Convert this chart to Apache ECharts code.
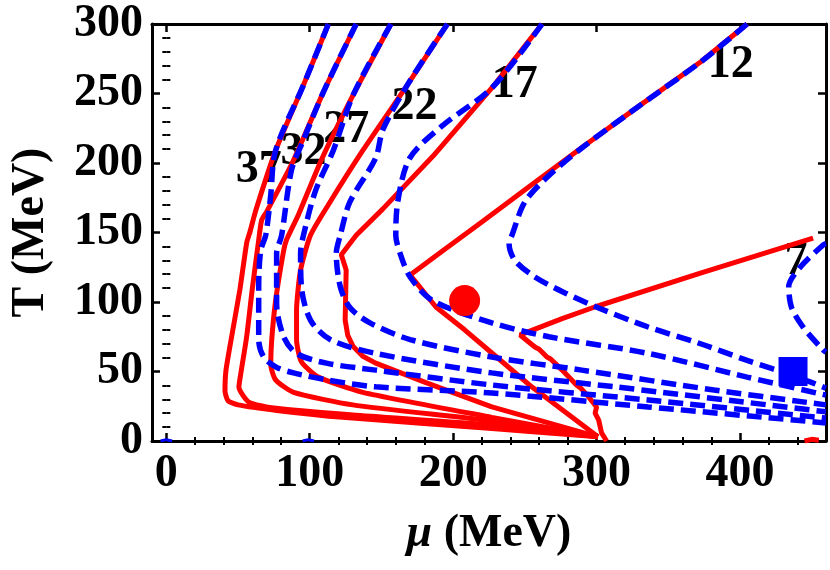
<!DOCTYPE html>
<html>
<head>
<meta charset="utf-8">
<title>T - mu contours</title>
<script src="https://cdn.jsdelivr.net/npm/echarts@6/dist/echarts.min.js"></script>
<style>
  html, body { margin: 0; padding: 0; background: #fff; }
  #chart { width: 830px; height: 570px; }
</style>
</head>
<body>
<div id="chart"></div>
<script>
// ticks
const xMajor = [0, 100, 200, 300, 400]
const xMinor = [20, 40, 60, 80, 120, 140, 160, 180, 220, 240, 260, 280, 320, 340, 360, 380, 420, 440]
const yMajor = [0, 50, 100, 150, 200, 250, 300]
const yMinor = [10, 20, 30, 40, 60, 70, 80, 90, 110, 120, 130, 140, 160, 170, 180, 190, 210, 220, 230, 240, 260, 270, 280, 290]

// red solid contours  [mu, T]
const red37 = [[113, 300], [95.6, 256], [76.2, 209], [62.4, 166], [58.2, 150], [56.1, 143], [51.3, 109], [45.7, 76], [41.6, 51], [40.9, 36], [43, 29], [50, 26], [77, 22], [123, 17], [227, 9], [301, 3]]
const red32 = [[132.4, 300], [109.5, 251], [88.7, 202], [70, 165], [66.5, 159], [64.4, 144.6], [60, 110], [56, 75], [52, 49], [50.6, 38.8], [57.5, 28], [74.8, 23.7], [130, 18.7], [227, 11.5], [301, 3]]
const red27 = [[156.6, 300], [130.3, 249], [108, 202], [92.2, 163], [83.9, 145], [81.8, 137], [76.2, 101], [73.5, 73], [72.8, 55], [76.2, 44], [88.7, 35], [130, 26], [227, 14.4], [301, 3]]
const red22 = [[196, 300], [168, 256], [137, 209], [113, 170], [100.5, 148], [93.6, 123], [90.8, 94], [90.8, 73], [94.2, 57], [106, 46], [137, 35], [227, 17], [301, 3]]
const red17 = [[262, 300], [227, 254], [186, 205], [151, 167], [132.4, 148], [122, 134], [125.4, 123], [124.7, 87], [126.5, 76], [130.3, 68], [137, 61], [146, 56], [181, 42], [227, 24.5], [301, 3]]
const red12 = [[405, 300], [373, 273], [331, 242], [290, 211.4], [255, 184.5], [220, 157.5], [193, 137], [170, 119.4], [188, 96.4], [208, 80], [227, 63.3], [255, 38.8], [301, 3]]
const red7 = [[451, 146], [373, 121], [298.7, 96.4], [276, 88], [246.7, 76.3], [257, 67.6], [260, 66], [265.4, 60.4], [268, 59], [276, 51], [286, 40.3], [289, 38], [294.5, 31.7], [300, 24.5], [299, 20], [301.5, 15], [303.5, 5.8], [307, 0]]
// small red fragment at the lower right corner
const red0 = [[445, 0], [450, 1.2], [455, 0.6]]

// blue dashed contours
const blue37 = [[113, 300], [95.6, 256], [76.2, 209], [72.8, 177], [69.3, 148], [65.8, 137], [64.4, 111], [64.4, 73], [67.9, 60.4], [76.9, 53], [88.7, 49], [111.6, 44], [146, 39], [227, 34.5], [336, 24.5], [460, 13]]
const blue32 = [[132.4, 300], [109.5, 251], [95.6, 216.5], [87.3, 195], [80.4, 148], [76.9, 135], [76.9, 99], [81.8, 75], [90.8, 63], [111.6, 56], [146, 51], [227, 40.3], [336, 29.5], [460, 16.5]]
const blue27 = [[156.6, 300], [130.3, 249], [116.4, 209], [104, 180], [95.6, 148], [93.6, 135], [94.2, 111], [100.5, 87], [114.3, 73], [146, 63], [227, 49], [312.5, 39], [460, 21]]
const blue22 = [[196, 300], [168, 256], [151, 224], [146, 203.6], [128, 172], [121.3, 148], [118.5, 135], [121.3, 111], [128, 96], [142, 85], [170, 73], [227, 60.4], [289.7, 51], [382, 36.7], [460, 26]]
const blue17 = [[262, 300], [227, 254], [192.7, 227], [169.8, 203.6], [161.5, 173], [160, 148], [163, 135], [170, 118], [185.7, 101], [227, 85], [266.8, 75], [336, 63], [405, 46], [460, 33]]
const blue12 = [[405, 300], [373, 273], [331, 242], [289.7, 210.8], [266.8, 191], [250, 172], [241, 148], [239, 142], [243, 130], [257, 118], [278, 106.5], [301.5, 95.7], [336, 82], [371, 70.5], [405, 58], [440, 46], [460, 38]]
const blue7 = [[460, 142], [458, 141], [442, 125], [434, 111], [436, 96], [444, 82], [458, 65.5], [460, 64]]
// tiny blue fragments on the T = 0 edge
const blueBitA = [[-4, 0], [0, 1], [4, 0]]
const blueBitB = [[95, 0], [99, 1], [103, 0]]

// markers and labels
const circlePt = [[208, 101]]
const squarePt = [[437, 50]]
const contourLabels = [[64.4, 195, '37'], [95.6, 208, '32'], [125.4, 224, '27'], [173, 240, '22'], [243, 256, '17'], [393.6, 270.5, '12'], [439, 129, '7']]

const FONT = 'Liberation Serif'
const chart = echarts.init(document.getElementById('chart'))

function axisBase(extra) {
  return Object.assign({
    type: 'value',
    splitLine: { show: false },
    axisLine: { show: true, onZero: false, lineStyle: { color: '#000', width: 3 } }
  }, extra)
}

// smooth: kinked contours stay straight-segmented
function redLine(data, smooth) {
  return {
    type: 'line', data, symbol: 'none', smooth: smooth || false, z: 3,
    lineStyle: { color: '#ff0000', width: 5 }
  }
}
function blueLine(data) {
  return {
    type: 'line', data, symbol: 'none', smooth: 0.3, z: 4,
    lineStyle: { color: '#0000ff', width: 5.5, type: [15, 7] }
  }
}

const tickLabel = { fontFamily: FONT, fontWeight: 'bold', fontSize: 46, color: '#000' }

const option = {
  backgroundColor: '#fff',
  animation: false,
  grid: { left: 148, top: 24, width: 678, height: 417 },
  xAxis: [
    axisBase({
      min: -10, max: 460, position: 'bottom',
      axisTick: { inside: true, length: 8, customValues: xMajor, lineStyle: { width: 2.5, color: '#000' } },
      axisLabel: Object.assign({ customValues: xMajor, margin: 10 }, tickLabel),
      name: '{i|μ} (MeV)', nameLocation: 'middle', nameGap: 70,
      nameTextStyle: {
        fontFamily: FONT, fontWeight: 'bold', fontSize: 46, color: '#000',
        rich: { i: { fontFamily: FONT, fontStyle: 'italic', fontWeight: 'bold', fontSize: 46 } }
      }
    }),
    axisBase({
      min: -10, max: 460, position: 'bottom', axisLine: { show: false },
      axisTick: { inside: true, length: 4, customValues: xMinor, lineStyle: { width: 2, color: '#000' } },
      axisLabel: { show: false }
    }),
    axisBase({
      min: -10, max: 460, position: 'top',
      axisTick: { inside: true, length: 8, customValues: xMajor, lineStyle: { width: 2.5, color: '#000' } },
      axisLabel: { show: false }
    }),
    axisBase({
      min: -10, max: 460, position: 'top', axisLine: { show: false },
      axisTick: { inside: true, length: 4, customValues: xMinor, lineStyle: { width: 2, color: '#000' } },
      axisLabel: { show: false }
    })
  ],
  yAxis: [
    axisBase({
      min: 0, max: 300, position: 'left',
      axisTick: { inside: true, length: 8, customValues: yMajor, lineStyle: { width: 2.5, color: '#000' } },
      axisLabel: Object.assign({ customValues: yMajor, margin: 9 }, tickLabel),
      name: 'T (MeV)', nameLocation: 'middle', nameGap: 98, nameRotate: 90,
      nameTextStyle: { fontFamily: FONT, fontWeight: 'bold', fontSize: 46, color: '#000' }
    }),
    axisBase({
      min: 0, max: 300, position: 'left', axisLine: { show: false },
      axisTick: { inside: true, length: 4, customValues: yMinor, lineStyle: { width: 2, color: '#000' } },
      axisLabel: { show: false }
    }),
    axisBase({
      min: 0, max: 300, position: 'right',
      axisTick: { inside: true, length: 8, customValues: yMajor, lineStyle: { width: 2.5, color: '#000' } },
      axisLabel: { show: false }
    }),
    axisBase({
      min: 0, max: 300, position: 'right', axisLine: { show: false },
      axisTick: { inside: true, length: 4, customValues: yMinor, lineStyle: { width: 2, color: '#000' } },
      axisLabel: { show: false }
    })
  ],
  series: [
    {
      type: 'scatter', data: contourLabels, symbolSize: 0, z: 2,
      itemStyle: { opacity: 1 },
      label: {
        show: true, position: 'inside', formatter: p => p.data[2],
        fontFamily: FONT, fontWeight: 'bold', fontSize: 46, color: '#000', opacity: 1
      }
    },
    redLine(red37, 0.2), redLine(red32, 0.2), redLine(red27, 0.2), redLine(red22, 0.2),
    redLine(red17), redLine(red12), redLine(red7), redLine(red0),
    blueLine(blue37), blueLine(blue32), blueLine(blue27), blueLine(blue22),
    blueLine(blue17), blueLine(blue12), blueLine(blue7),
    { type: 'line', data: blueBitA, symbol: 'none', z: 4, lineStyle: { color: '#0000ff', width: 3 } },
    { type: 'line', data: blueBitB, symbol: 'none', z: 4, lineStyle: { color: '#0000ff', width: 3 } },
    { type: 'scatter', data: circlePt, symbol: 'circle', symbolSize: 31, z: 6, itemStyle: { color: '#ff0000', opacity: 1 } },
    { type: 'scatter', data: squarePt, symbol: 'rect', symbolSize: 29, z: 6, itemStyle: { color: '#0000ff', opacity: 1 } }
  ]
}
chart.setOption(option)
</script>
</body>
</html>
